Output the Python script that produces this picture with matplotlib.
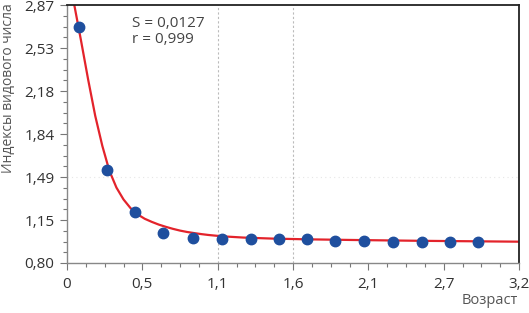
import numpy as np
import matplotlib
matplotlib.use("Agg")
import matplotlib.pyplot as plt
from matplotlib.ticker import AutoMinorLocator

# точки (возраст, индекс)
age = [0.085, 0.283, 0.48, 0.68, 0.89, 1.10, 1.30, 1.50, 1.70, 1.90, 2.10, 2.31, 2.51, 2.71, 2.91]
index = [2.69, 1.55, 1.21, 1.04, 1.00, 0.99, 0.99, 0.99, 0.99, 0.98, 0.98, 0.97, 0.97, 0.97, 0.97]

# аппроксимирующая кривая
curve_x = [0.03, 0.05, 0.10, 0.15, 0.20, 0.25, 0.30, 0.35, 0.40, 0.45, 0.50, 0.55, 0.60,
           0.65, 0.70, 0.75, 0.80, 0.85, 0.90, 0.95, 1.00, 1.10, 1.25, 1.45, 1.70, 2.00,
           2.50, 3.20]
curve_y = [3.00, 2.88, 2.58, 2.27, 1.98, 1.74, 1.54, 1.405, 1.31, 1.24, 1.19, 1.155, 1.13,
           1.108, 1.09, 1.074, 1.06, 1.049, 1.04, 1.032, 1.025, 1.014, 1.004, 0.996, 0.99,
           0.985, 0.978, 0.971]

x_ticks = [0, 3.2 / 6, 6.4 / 6, 1.6, 12.8 / 6, 16 / 6, 3.2]
x_labels = ["0", "0,5", "1,1", "1,6", "2,1", "2,7", "3,2"]
y_ticks = [0.80, 1.145, 1.49, 1.835, 2.18, 2.525, 2.87]
y_labels = ["0,80", "1,15", "1,49", "1,84", "2,18", "2,53", "2,87"]

plt.rcParams['font.family'] = ['Open Sans', 'DejaVu Sans']

fig = plt.figure(figsize=(5.29, 3.13), dpi=100)
ax = fig.add_axes([67 / 529, 1 - 263 / 313, 452 / 529, 258 / 313])

# сетка
for xv in [x_ticks[2], x_ticks[3]]:
    ax.axvline(xv, color='#bbbbbb', lw=0.8, ls=(0, (2, 2)), zorder=0)
ax.axhline(y_ticks[2], color='#e6e6e6', lw=0.8, ls=(0, (1, 3)), zorder=0)

ax.plot(curve_x, curve_y, color='#e3232b', lw=1.6, zorder=2)
ax.plot(age, index, 'o', color='#1f4f9e', ms=7.5, zorder=3)

ax.set_xlim(0, 3.2)
ax.set_ylim(0.80, 2.87)
ax.set_xticks(x_ticks)
ax.set_xticklabels(x_labels)
ax.set_yticks(y_ticks)
ax.set_yticklabels(y_labels)
ax.xaxis.set_minor_locator(AutoMinorLocator(4))
ax.yaxis.set_minor_locator(AutoMinorLocator(4))
ax.tick_params(which='major', length=5, width=0.8, color='#777777', labelsize=11,
               labelcolor='#333333', direction='out')
ax.tick_params(which='minor', length=3, width=0.8, color='#777777', direction='out')
ax.tick_params(axis='x', pad=5)
ax.tick_params(axis='y', pad=4)

for s in ['left', 'bottom']:
    ax.spines[s].set_color('#888888')
    ax.spines[s].set_linewidth(1.0)
for s in ['top', 'right']:
    ax.spines[s].set_color('#222222')
    ax.spines[s].set_linewidth(1.3)

ax.text(0.46, 2.725, "S = 0,0127", fontsize=11, color='#444444', va='center')
ax.text(0.46, 2.59, "r = 0,999", fontsize=11, color='#444444', va='center')

fig.text(9 / 529, 1 - 88 / 313, "Индексы видового числа", rotation=90, ha='center', va='center',
         fontsize=10, color='#555555')
fig.text(518 / 529, 1 - 300 / 313, "Возраст", ha='right', va='center', fontsize=10.5, color='#555555')

fig.savefig("out.png", dpi=100)
